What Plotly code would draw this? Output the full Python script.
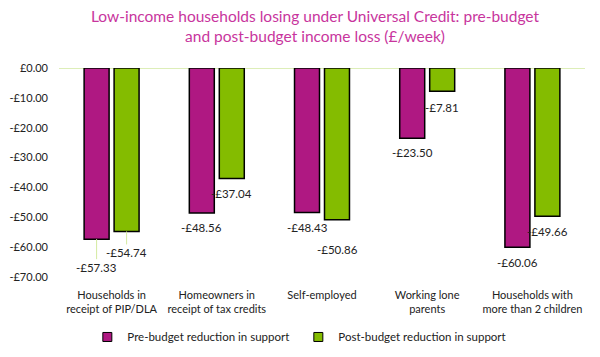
import plotly.graph_objects as go

categories = ["Households in<br>receipt of PIP/DLA", "Homeowners in<br>receipt of tax credits",
              "Self-employed", "Working lone<br>parents", "Households with<br>more than 2 children"]
pre_budget = [-57.33, -48.56, -48.43, -23.50, -60.06]
post_budget = [-54.74, -37.04, -50.86, -7.81, -49.66]
series_names = ["Pre-budget reduction in support", "Post-budget reduction in support"]
tick_vals = [0, -10, -20, -30, -40, -50, -60, -70]
tick_text = ["£0.00", "-£10.00", "-£20.00", "-£30.00", "-£40.00", "-£50.00", "-£60.00", "-£70.00"]

PINK = "#AF1882"
GREEN = "#84BC00"
FONT = "Lato"

def fmt(v):
    return "-£%.2f" % abs(v) if v < 0 else "£%.2f" % v

fig = go.Figure()
for vals, name, col in ((pre_budget, series_names[0], PINK), (post_budget, series_names[1], GREEN)):
    fig.add_trace(go.Bar(x=categories, y=vals, name=name, showlegend=False,
                         marker=dict(color=col, line=dict(color="black", width=1.5))))
# legend entries with small square swatches
for name, col in ((series_names[0], PINK), (series_names[1], GREEN)):
    fig.add_trace(go.Scatter(x=[None], y=[None], mode="markers", name=name,
                             marker=dict(symbol="square", size=9, color=col,
                                         line=dict(color="black", width=1))))

# label offsets (pixels below bar end); leader lines where labels were moved away
pre_off = [28, 15, 15, 14, 15]
post_off = [21, 15, 30, 16, 15]
lead_col = "#D4EBA0"
for series, offs, xs in ((pre_budget, pre_off, -15), (post_budget, post_off, 15)):
    for cat, v, off in zip(categories, series, offs):
        if off > 18:
            fig.add_annotation(x=cat, y=v, xshift=xs, text=fmt(v), showarrow=True,
                               arrowhead=0, arrowwidth=1, arrowcolor=lead_col,
                               ax=0, ay=off, standoff=0,
                               font=dict(family=FONT, size=11.5, color="#222222"))
        else:
            fig.add_annotation(x=cat, y=v, xshift=xs, yshift=-off, text=fmt(v),
                               showarrow=False,
                               font=dict(family=FONT, size=11.5, color="#222222"))

fig.update_layout(
    width=600, height=357,
    margin=dict(l=59, r=15, t=68, b=80, autoexpand=False),
    paper_bgcolor="white", plot_bgcolor="white",
    barmode="group", bargap=0.43, bargroupgap=0.167,
    font=dict(family=FONT, size=11, color="#222222"),
    title=dict(text="Low-income households losing under Universal Credit: pre-budget<br>and post-budget income loss (£/week)",
               x=0.525, xanchor="center", xref="container", y=1 - 22 / 357, yanchor="middle",
               font=dict(family=FONT, size=15.5, color="#C8359D")),
    showlegend=True,
    legend=dict(orientation="h", x=0.455, xanchor="center", y=-0.287, yanchor="middle",
                font=dict(family=FONT, size=11.5, color="#222222"), itemwidth=30,
                entrywidth=166, tracegroupgap=0),
    xaxis=dict(showgrid=False, showline=False, ticks="", automargin=False,
               ticklabelstandoff=10, tickfont=dict(family=FONT, size=11)),
    yaxis=dict(range=[-70, 0], tickvals=tick_vals, ticktext=tick_text, showgrid=False,
               zeroline=True, zerolinecolor="#DDEEB8", zerolinewidth=1, automargin=False,
               showline=False, ticks="", ticklabelstandoff=10,
               tickfont=dict(family=FONT, size=11)),
)
fig.write_html("out.html", config={"displayModeBar": False},
               post_script="document.body.style.margin='0px';")
